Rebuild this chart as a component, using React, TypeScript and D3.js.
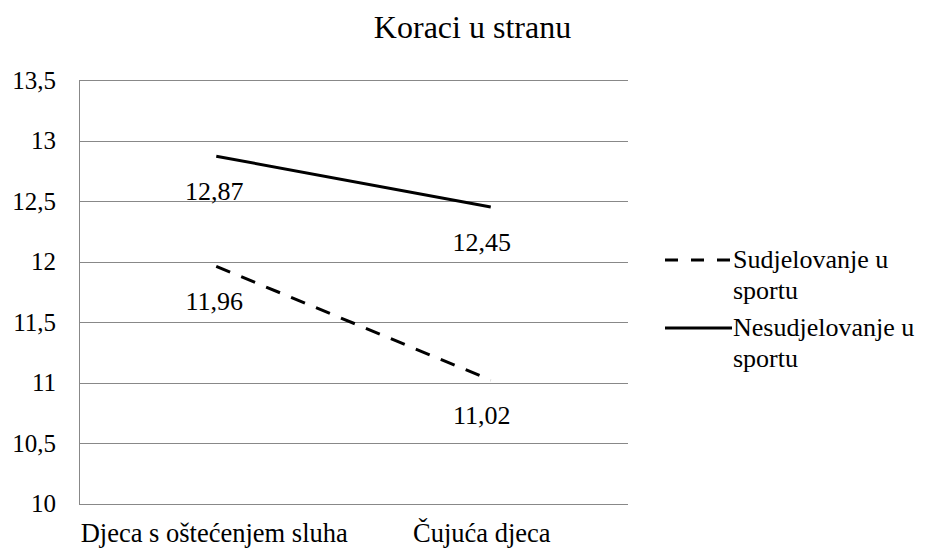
import React from 'react';
import * as d3 from 'd3';

const categories = ['Djeca s oštećenjem sluha', 'Čujuća djeca'];
const seriesNames = ['Sudjelovanje u sportu', 'Nesudjelovanje u sportu'];
const sudjelovanje = [11.96, 11.02];
const nesudjelovanje = [12.87, 12.45];
const yTicks = [10, 10.5, 11, 11.5, 12, 12.5, 13, 13.5];
const legendLines = [['Sudjelovanje u', 'sportu'], ['Nesudjelovanje u', 'sportu']];

const W = 929;
const H = 549;
const margin = { top: 80, right: 301, bottom: 45.5, left: 79 };
const font = "'Liberation Serif', 'DejaVu Serif', serif";
const grid = '#888888';

export default function App() {
  const x = d3.scaleBand().domain(categories).range([margin.left, W - margin.right]);
  const y = d3.scaleLinear().domain([10, 13.5]).range([H - margin.bottom, margin.top]);
  const cx = (c: string) => (x(c) || 0) + x.bandwidth() / 2;
  // Excel nudges the right-hand labels a bit to the left
  const labelDx = (i: number) => (i === 0 ? -2 : -9);

  const line = d3.line<number>()
    .x((_, i) => cx(categories[i]))
    .y(d => y(d));

  const series = [
    { name: seriesNames[0], values: sudjelovanje, dash: '15,12', legendDash: '13,13' },
    { name: seriesNames[1], values: nesudjelovanje, dash: null, legendDash: null },
  ];

  const fmt = (v: number) => v.toString().replace('.', ',');

  return (
    <svg width={W} height={H} style={{ position: 'absolute', left: 0, top: 0, background: '#fff', fontFamily: font }}>
      <text x={472.5} y={38} textAnchor="middle" fontSize={32}>Koraci u stranu</text>

      {yTicks.map(t => (
        <g key={t}>
          <line x1={margin.left} x2={W - margin.right} y1={Math.round(y(t)) + 0.5} y2={Math.round(y(t)) + 0.5}
            stroke={grid} strokeWidth={1} />
          <text x={56} y={y(t) + 8.5} textAnchor="end" fontSize={25}>{fmt(t)}</text>
        </g>
      ))}
      <line x1={margin.left + 0.5} x2={margin.left + 0.5} y1={Math.round(y(13.5)) + 0.5} y2={Math.round(y(10)) + 0.5}
        stroke={grid} />

      {categories.map((c, i) => (
        <text key={c} x={cx(c) + labelDx(i)} y={542} textAnchor="middle" fontSize={26.5}>{c}</text>
      ))}

      {series.map(s => (
        <g key={s.name}>
          <path d={line(s.values) || ''} fill="none" stroke="#000" strokeWidth={3}
            strokeDasharray={s.dash || undefined} />
          {s.values.map((v, i) => (
            <text key={i} x={cx(categories[i]) + labelDx(i)} y={y(v) + 43.5} textAnchor="middle" fontSize={26}>
              {fmt(v)}
            </text>
          ))}
        </g>
      ))}

      {series.map((s, i) => {
        const ly = 260 + i * 68;
        return (
          <g key={s.name}>
            <line x1={665} x2={732} y1={ly} y2={ly} stroke="#000" strokeWidth={3}
              strokeDasharray={s.legendDash || undefined} />
            {legendLines[i].map((t, j) => (
              <text key={j} x={733} y={ly + 8 + j * 31} fontSize={26}>{t}</text>
            ))}
          </g>
        );
      })}
    </svg>
  );
}
